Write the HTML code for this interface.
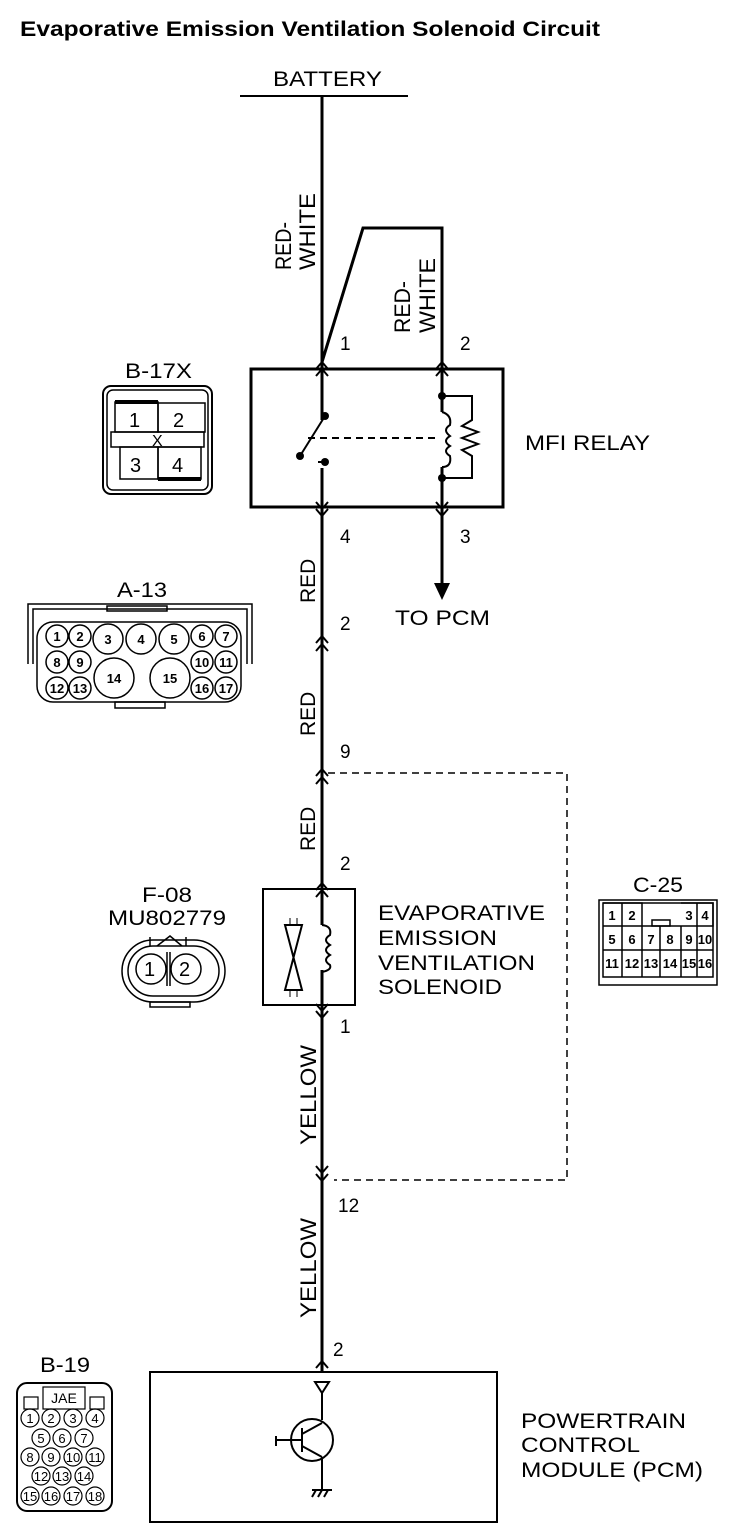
<!DOCTYPE html>
<html><head><style>body{margin:0;background:#fff}svg{display:block}text{font-family:"Liberation Sans",sans-serif;fill:#000}</style></head><body>
<svg width="752" height="1538" viewBox="0 0 752 1538" xmlns="http://www.w3.org/2000/svg">
<defs>
<g id="up"><path d="M-6,6 L0,-1 L6,6" fill="none" stroke="#000" stroke-width="2"/></g>
<g id="dn"><path d="M-6,-6 L0,1 L6,-6" fill="none" stroke="#000" stroke-width="2"/></g>
</defs>
<text x="20" y="36" font-size="21" font-weight="bold" textLength="580" lengthAdjust="spacingAndGlyphs">Evaporative Emission Ventilation Solenoid Circuit</text>
<text x="273" y="86" font-size="21" textLength="109" lengthAdjust="spacingAndGlyphs">BATTERY</text>
<line x1="240" y1="96" x2="408" y2="96" stroke="#000" stroke-width="2"/>
<g stroke="#000" stroke-width="3" fill="none">
<line x1="322" y1="96" x2="322" y2="1372"/>
<polyline points="322,362 363,228 442,228 442,585"/>
</g>
<path d="M434,583 L450,583 L442,600 Z"/>
<text x="395" y="625" font-size="21" textLength="95" lengthAdjust="spacingAndGlyphs">TO PCM</text>
<!-- relay -->
<rect x="251" y="369" width="252" height="138" fill="none" stroke="#000" stroke-width="3"/>
<use href="#up" x="322" y="363"/><use href="#up" x="322" y="370"/>
<use href="#up" x="442" y="363"/><use href="#up" x="442" y="370"/>
<use href="#dn" x="322" y="508"/><use href="#dn" x="322" y="515"/>
<use href="#dn" x="442" y="508"/><use href="#dn" x="442" y="515"/>
<rect x="318" y="420" width="10" height="48" fill="#fff"/>
<circle cx="325" cy="416" r="4"/><circle cx="300" cy="456" r="4"/><circle cx="325" cy="462" r="4"/>
<line x1="300" y1="456" x2="325" y2="416" stroke="#000" stroke-width="2"/>
<line x1="318" y1="462" x2="325" y2="462" stroke="#000" stroke-width="2"/>
<line x1="308" y1="438" x2="435" y2="438" stroke="#000" stroke-width="2" stroke-dasharray="7,5"/>
<rect x="437" y="412" width="10" height="55" fill="#fff"/>
<circle cx="442" cy="396" r="4"/><circle cx="442" cy="478" r="4"/>
<g stroke="#000" stroke-width="2" fill="none">
<path d="M442,412 Q452,415 450,425 Q442,430 450,436 Q442,441 450,446 Q442,451 450,456 Q452,467 442,467"/>
<path d="M442,396 H472 V420 L462,426 L478,432 L462,438 L478,444 L462,450 L472,456 V478 H442"/>
</g>
<text x="340" y="350" font-size="19">1</text><text x="460" y="350" font-size="19">2</text>
<text x="340" y="543" font-size="19">4</text><text x="460" y="543" font-size="19">3</text>
<text x="525" y="450" font-size="21" textLength="125" lengthAdjust="spacingAndGlyphs">MFI RELAY</text>
<text transform="translate(291,270) rotate(-90)" font-size="22" textLength="48" lengthAdjust="spacingAndGlyphs">RED-</text>
<text transform="translate(315,270) rotate(-90)" font-size="22" textLength="77" lengthAdjust="spacingAndGlyphs">WHITE</text>
<text transform="translate(410,333) rotate(-90)" font-size="22" textLength="52" lengthAdjust="spacingAndGlyphs">RED-</text>
<text transform="translate(435,333) rotate(-90)" font-size="22" textLength="75" lengthAdjust="spacingAndGlyphs">WHITE</text>
<text transform="translate(315,603) rotate(-90)" font-size="21">RED</text>
<text transform="translate(315,736) rotate(-90)" font-size="21">RED</text>
<text transform="translate(315,851) rotate(-90)" font-size="21">RED</text>
<text transform="translate(316,1145) rotate(-90)" font-size="22" textLength="100" lengthAdjust="spacingAndGlyphs">YELLOW</text>
<text transform="translate(316,1318) rotate(-90)" font-size="22" textLength="100" lengthAdjust="spacingAndGlyphs">YELLOW</text>
<use href="#up" x="322" y="637"/><use href="#up" x="322" y="645"/>
<text x="340" y="630" font-size="19">2</text>
<use href="#up" x="322" y="770"/><use href="#up" x="322" y="778"/>
<text x="340" y="758" font-size="19">9</text>
<polyline points="328,773 567,773 567,1180 334,1180" fill="none" stroke="#000" stroke-width="1.5" stroke-dasharray="7,5"/>
<text x="340" y="870" font-size="19">2</text>
<!-- solenoid -->
<rect x="263" y="889" width="92" height="116" fill="none" stroke="#000" stroke-width="2"/>
<use href="#up" x="322" y="884"/><use href="#up" x="322" y="891"/>
<use href="#dn" x="322" y="1010"/><use href="#dn" x="322" y="1017"/>
<rect x="317" y="925" width="10" height="45" fill="#fff"/>
<path d="M322,925 Q332,926 330,935 Q322,940 330,945 Q322,950 330,955 Q322,960 330,965 Q332,970 322,972" fill="none" stroke="#000" stroke-width="2"/>
<path d="M285,925 L302,925 L285,990 L302,990 Z" fill="none" stroke="#000" stroke-width="2"/>
<line x1="290" y1="918" x2="290" y2="925" stroke="#000"/><line x1="297" y1="918" x2="297" y2="925" stroke="#000"/>
<line x1="290" y1="990" x2="290" y2="997" stroke="#000"/><line x1="297" y1="990" x2="297" y2="997" stroke="#000"/>
<text x="340" y="1033" font-size="19">1</text>
<text x="378" y="920" font-size="21" textLength="167" lengthAdjust="spacingAndGlyphs">EVAPORATIVE</text>
<text x="378" y="945" font-size="21" textLength="119" lengthAdjust="spacingAndGlyphs">EMISSION</text>
<text x="378" y="970" font-size="21" textLength="157" lengthAdjust="spacingAndGlyphs">VENTILATION</text>
<text x="378" y="994" font-size="21" textLength="124" lengthAdjust="spacingAndGlyphs">SOLENOID</text>
<use href="#dn" x="322" y="1172"/><use href="#dn" x="322" y="1180"/>
<text x="338" y="1212" font-size="19">12</text>
<use href="#up" x="322" y="1362"/>
<text x="333" y="1356" font-size="19">2</text>
<!-- PCM -->
<rect x="150" y="1372" width="347" height="150" fill="none" stroke="#000" stroke-width="2"/>
<path d="M315,1382 L329,1382 L322,1393 Z" fill="none" stroke="#000" stroke-width="2"/>
<g stroke="#000" stroke-width="2" fill="none">
<line x1="322" y1="1393" x2="322" y2="1420"/>
<circle cx="312" cy="1440" r="21"/>
<line x1="276" y1="1440" x2="302" y2="1440"/><line x1="276" y1="1436" x2="276" y2="1446"/>
<line x1="302" y1="1428" x2="302" y2="1452"/>
<line x1="302" y1="1434" x2="322" y2="1423"/><line x1="302" y1="1446" x2="322" y2="1457"/>
<line x1="322" y1="1457" x2="322" y2="1490"/>
<line x1="312" y1="1490" x2="332" y2="1490"/>
<line x1="316" y1="1490" x2="312" y2="1497"/><line x1="322" y1="1490" x2="318" y2="1497"/><line x1="328" y1="1490" x2="324" y2="1497"/>
</g>
<text x="521" y="1428" font-size="21" textLength="165" lengthAdjust="spacingAndGlyphs">POWERTRAIN</text>
<text x="521" y="1452" font-size="21" textLength="119" lengthAdjust="spacingAndGlyphs">CONTROL</text>
<text x="521" y="1477" font-size="21" textLength="182" lengthAdjust="spacingAndGlyphs">MODULE (PCM)</text>
<!-- B-17X -->
<text x="125" y="378" font-size="21" textLength="67" lengthAdjust="spacingAndGlyphs">B-17X</text>
<rect x="103" y="386" width="109" height="108" rx="8" fill="none" stroke="#000" stroke-width="2"/>
<rect x="107" y="390" width="101" height="100" rx="6" fill="none" stroke="#000" stroke-width="1.5"/>
<g fill="none" stroke="#000" stroke-width="1.5">
<rect x="115" y="402" width="43" height="30"/><rect x="158" y="403" width="47" height="29"/>
<rect x="111" y="432" width="93" height="15"/>
<rect x="120" y="447" width="38" height="32"/><rect x="158" y="447" width="43" height="32"/>
</g>
<rect x="115" y="400" width="43" height="4"/><rect x="158" y="477" width="43" height="4"/>
<text x="129" y="427" font-size="20">1</text><text x="173" y="427" font-size="20">2</text>
<text x="130" y="472" font-size="20">3</text><text x="172" y="472" font-size="20">4</text>
<text x="152" y="446" font-size="16">X</text>
<!-- A-13 -->
<text x="117" y="597" font-size="21" textLength="50" lengthAdjust="spacingAndGlyphs">A-13</text>
<g fill="none" stroke="#000" stroke-width="1.5">
<polyline points="28,664 28,604 252,604 252,664"/>
<polyline points="33,664 33,609 247,609 247,664"/>
<rect x="107" y="606" width="60" height="5"/>
<rect x="37" y="622" width="204" height="80" rx="16"/>
<rect x="115" y="702" width="50" height="6"/>
</g>
<g fill="none" stroke="#000" stroke-width="1.5">
<circle cx="57" cy="636" r="11"/><circle cx="80" cy="636" r="11"/><circle cx="108" cy="639" r="15"/><circle cx="141" cy="639" r="15"/><circle cx="174" cy="639" r="15"/><circle cx="202" cy="636" r="11"/><circle cx="226" cy="636" r="11"/>
<circle cx="57" cy="662" r="11"/><circle cx="80" cy="662" r="11"/><circle cx="202" cy="662" r="11"/><circle cx="226" cy="662" r="11"/>
<circle cx="57" cy="688" r="11"/><circle cx="80" cy="688" r="11"/><circle cx="202" cy="688" r="11"/><circle cx="226" cy="688" r="11"/>
<circle cx="114" cy="678" r="20"/><circle cx="170" cy="678" r="20"/>
</g>
<g font-size="13" font-weight="bold" text-anchor="middle">
<text x="57" y="641">1</text><text x="80" y="641">2</text><text x="108" y="644">3</text><text x="141" y="644">4</text><text x="174" y="644">5</text><text x="202" y="641">6</text><text x="226" y="641">7</text>
<text x="57" y="667">8</text><text x="80" y="667">9</text><text x="202" y="667">10</text><text x="226" y="667">11</text>
<text x="57" y="693">12</text><text x="80" y="693">13</text><text x="202" y="693">16</text><text x="226" y="693">17</text>
<text x="114" y="683">14</text><text x="170" y="683">15</text>
</g>
<!-- F-08 -->
<text x="142" y="902" font-size="21" textLength="50" lengthAdjust="spacingAndGlyphs">F-08</text>
<text x="108" y="925" font-size="21" textLength="118" lengthAdjust="spacingAndGlyphs">MU802779</text>
<g fill="none" stroke="#000" stroke-width="1.5">
<rect x="122" y="940" width="103" height="62" rx="31"/>
<rect x="128" y="946" width="91" height="50" rx="25"/>
<circle cx="151" cy="969" r="15"/><circle cx="186" cy="969" r="15"/>
<line x1="167" y1="952" x2="167" y2="986"/><line x1="170" y1="952" x2="170" y2="986"/>
<polyline points="157,946 170,936 182,946"/>
<line x1="150" y1="937" x2="150" y2="946"/><line x1="186" y1="937" x2="186" y2="946"/>
<rect x="150" y="1002" width="40" height="5"/>
</g>
<text x="144" y="976" font-size="20">1</text><text x="179" y="976" font-size="20">2</text>
<!-- C-25 -->
<text x="633" y="892" font-size="21" textLength="50" lengthAdjust="spacingAndGlyphs">C-25</text>
<g fill="none" stroke="#000" stroke-width="1.5">
<rect x="599" y="900" width="118" height="85"/>
<rect x="603" y="903" width="110" height="74"/>
<rect x="652" y="920" width="18" height="6"/>
<path d="M603,903 H642 V926 H603 M681,903 H713 V926 H681 M603,926 H713 M603,950 H713"/>
<path d="M622,903 V977 M642,926 V977 M660,926 V977 M681,926 V977 M697,903 V977"/>
</g>
<g font-size="13" font-weight="bold" text-anchor="middle">
<text x="612" y="920">1</text><text x="632" y="920">2</text><text x="689" y="920">3</text><text x="705" y="920">4</text>
<text x="612" y="944">5</text><text x="632" y="944">6</text><text x="651" y="944">7</text><text x="670" y="944">8</text><text x="689" y="944">9</text><text x="705" y="944">10</text>
<text x="612" y="968">11</text><text x="632" y="968">12</text><text x="651" y="968">13</text><text x="670" y="968">14</text><text x="689" y="968">15</text><text x="705" y="968">16</text>
</g>
<!-- B-19 -->
<text x="40" y="1372" font-size="21" textLength="50" lengthAdjust="spacingAndGlyphs">B-19</text>
<rect x="17" y="1383" width="95" height="128" rx="10" fill="none" stroke="#000" stroke-width="2"/>
<g fill="none" stroke="#000" stroke-width="1.2">
<rect x="43" y="1387" width="42" height="22"/><rect x="24" y="1397" width="14" height="12"/><rect x="90" y="1397" width="14" height="12"/>
<circle cx="30" cy="1418" r="9"/><circle cx="51" cy="1418" r="9"/><circle cx="73" cy="1418" r="9"/><circle cx="95" cy="1418" r="9"/>
<circle cx="41" cy="1438" r="9"/><circle cx="62" cy="1438" r="9"/><circle cx="84" cy="1438" r="9"/>
<circle cx="30" cy="1457" r="9"/><circle cx="51" cy="1457" r="9"/><circle cx="73" cy="1457" r="9"/><circle cx="95" cy="1457" r="9"/>
<circle cx="41" cy="1476" r="9"/><circle cx="62" cy="1476" r="9"/><circle cx="84" cy="1476" r="9"/>
<circle cx="30" cy="1496" r="9"/><circle cx="51" cy="1496" r="9"/><circle cx="73" cy="1496" r="9"/><circle cx="95" cy="1496" r="9"/>
</g>
<g font-size="13" text-anchor="middle">
<text x="64" y="1403" font-family="Liberation Serif" font-size="14">JAE</text>
<text x="30" y="1423">1</text><text x="51" y="1423">2</text><text x="73" y="1423">3</text><text x="95" y="1423">4</text>
<text x="41" y="1443">5</text><text x="62" y="1443">6</text><text x="84" y="1443">7</text>
<text x="30" y="1462">8</text><text x="51" y="1462">9</text><text x="73" y="1462">10</text><text x="95" y="1462">11</text>
<text x="41" y="1481">12</text><text x="62" y="1481">13</text><text x="84" y="1481">14</text>
<text x="30" y="1501">15</text><text x="51" y="1501">16</text><text x="73" y="1501">17</text><text x="95" y="1501">18</text>
</g>
</svg>
</body></html>
